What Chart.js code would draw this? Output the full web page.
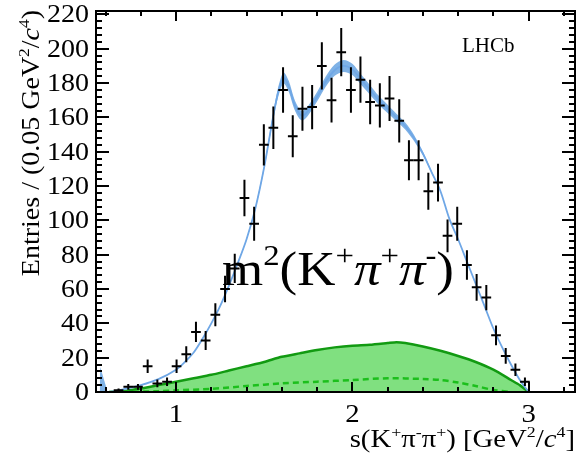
<!DOCTYPE html>
<html>
<head>
<meta charset="utf-8">
<script src="https://cdn.jsdelivr.net/npm/chart.js@4.4.1/dist/chart.umd.min.js"></script>
<style>
  html, body { margin: 0; padding: 0; background: #fff; }
  #wrap { width: 577px; height: 462px; }
</style>
</head>
<body>
<div id="wrap"><canvas id="chart" width="577" height="462"></canvas></div>
<script>
// measured data: bin centres and entries per bin
const binCenters = [0.674, 0.729, 0.784, 0.839, 0.894, 0.949, 1.003, 1.058, 1.113, 1.168,
  1.223, 1.278, 1.333, 1.388, 1.443, 1.498, 1.552, 1.607, 1.662, 1.717,
  1.772, 1.827, 1.882, 1.937, 1.992, 2.046, 2.101, 2.156, 2.211, 2.266,
  2.321, 2.376, 2.431, 2.486, 2.540, 2.595, 2.650, 2.705, 2.760, 2.815,
  2.870, 2.925, 2.979];
const entries = [1, 3, 3, 15, 5, 6, 15, 22, 35, 30,
  45, 60, 72, 113, 98, 144, 154, 176, 149, 165,
  166, 190, 170, 198, 176, 182, 169, 167, 171, 158,
  135, 135, 117, 122, 91, 98, 74, 61, 55, 33,
  21, 13, 6];
const binWidth = 0.055;

// total fit and its uncertainty band (half width)
const fitX = [0.62, 0.65, 0.7, 0.8, 0.9, 1.0, 1.05, 1.1, 1.15, 1.2,
  1.25, 1.3, 1.35, 1.4, 1.45, 1.5, 1.55, 1.58, 1.61, 1.64,
  1.67, 1.7, 1.72, 1.75, 1.8, 1.85, 1.9, 1.95, 2.0, 2.05,
  2.1, 2.15, 2.2, 2.25, 2.3, 2.35, 2.4, 2.45, 2.5, 2.55,
  2.6, 2.65, 2.7, 2.75, 2.8, 2.85, 2.9, 2.95, 3.0];
const fitY = [0, 0.5, 1.5, 4, 7.5, 13, 17.5, 23, 31, 40,
  50, 62, 75, 89, 107, 131, 160, 175, 183, 178,
  168, 162, 161, 164, 172, 181, 187.5, 190, 188, 182,
  176, 170, 165, 160, 155, 148, 139, 128, 117, 101,
  89, 76, 63, 50, 37, 26, 16, 7, 0];
const fitBand = [0, 0, 0, 0, 0, 0, 0, 0, 0, 0,
  0, 0, 0.3, 0.5, 0.8, 1.2, 2, 2.8, 3.2, 3.2,
  3, 2.8, 2.8, 2.8, 2.8, 3, 3.3, 3.5, 3.3, 3,
  2.8, 2.6, 2.4, 2.2, 2, 1.8, 1.2, 0.6, 0.3, 0,
  0, 0, 0, 0, 0, 0, 0, 0, 0];

// spike near threshold
const spikeX = [0.567, 0.57, 0.612];
const spikeY = [0, 14.5, 0];

// filled green component
const bkgX = [0.62, 0.7, 0.8, 0.9, 1.0, 1.1, 1.2, 1.3, 1.4, 1.5, 1.6, 1.7, 1.8, 1.9,
  2.0, 2.1, 2.2, 2.25, 2.3, 2.4, 2.5, 2.6, 2.7, 2.8, 2.9, 2.95, 3.0];
const bkgY = [0, 0.5, 2, 4, 6, 8, 10, 12.5, 15, 17.5, 20.5, 22.5, 24.5, 26,
  27, 27.5, 28.5, 29, 28.5, 26.5, 24, 21, 17.5, 13, 7, 4, 0];

// dashed green component
const dashX = [0.7, 0.9, 1.0, 1.2, 1.4, 1.6, 1.8, 2.0, 2.2, 2.4, 2.5, 2.6, 2.7, 2.8, 2.9];
const dashY = [0, 0.5, 1, 1.8, 3.5, 5, 6, 7, 8, 7.6, 7, 5.5, 3.5, 1.2, 0];

const xTicks = [1, 2, 3];
const xMinorTicks = [0.6, 0.8, 1.2, 1.4, 1.6, 1.8, 2.2, 2.4, 2.6, 2.8, 3.2];
const yTicks = [0, 20, 40, 60, 80, 100, 120, 140, 160, 180, 200, 220];

const SERIF = '"Liberation Serif", "DejaVu Serif", serif';
const pts = (xs, ys) => xs.map((x, i) => ({ x, y: ys[i] }));

// text with superscripts: runs of [text, style] where style has s (sup) / i (italic)
function runsWidth(ctx, runs, size) {
  let w = 0;
  runs.forEach(([t, st = '']) => {
    const sz = st.includes('s') ? size * 0.62 : size;
    ctx.font = (st.includes('i') ? 'italic ' : '') + sz + 'px ' + SERIF;
    w += ctx.measureText(t).width;
  });
  return w;
}
function drawRuns(ctx, runs, x, y, size) {
  runs.forEach(([t, st = '']) => {
    const sup = st.includes('s');
    const sz = sup ? size * 0.62 : size;
    ctx.font = (st.includes('i') ? 'italic ' : '') + sz + 'px ' + SERIF;
    ctx.fillText(t, x, sup ? y - size * 0.4 : y);
    x += ctx.measureText(t).width;
  });
}
// the reference text is a little wider than the font: stretch horizontally
function drawStretched(ctx, runs, x, y, size, sx, align) {
  const w = runsWidth(ctx, runs, size) * sx;
  const x0 = align === 'right' ? x - w : align === 'center' ? x - w / 2 : x;
  ctx.save();
  ctx.translate(x0, y);
  ctx.scale(sx, 1);
  drawRuns(ctx, runs, 0, 0, size);
  ctx.restore();
  return w;
}

const errorBars = {
  id: 'errorBars',
  afterDatasetsDraw(chart) {
    const { ctx, scales: { x, y } } = chart;
    const meta = chart.getDatasetMeta(0);
    ctx.save();
    ctx.strokeStyle = '#000';
    ctx.lineWidth = 2;
    meta.data.forEach((p, i) => {
      const n = entries[i];
      const e = Math.sqrt(n);
      ctx.beginPath();
      ctx.moveTo(x.getPixelForValue(binCenters[i] - binWidth / 2), p.y);
      ctx.lineTo(x.getPixelForValue(binCenters[i] + binWidth / 2), p.y);
      ctx.moveTo(p.x, y.getPixelForValue(n + e));
      ctx.lineTo(p.x, y.getPixelForValue(Math.max(0, n - e)));
      ctx.stroke();
    });
    ctx.restore();
  }
};

const frameTicks = {
  id: 'frameTicks',
  afterDraw(chart) {
    const { ctx, chartArea: a, scales: { x, y } } = chart;
    ctx.save();
    ctx.strokeStyle = '#000';
    ctx.lineWidth = 2;
    ctx.strokeRect(a.left, a.top, a.right - a.left, a.bottom - a.top);
    ctx.beginPath();
    const xt = (v, len) => {
      const px = Math.round(x.getPixelForValue(v));
      ctx.moveTo(px, a.bottom); ctx.lineTo(px, a.bottom - len);
      ctx.moveTo(px, a.top); ctx.lineTo(px, a.top + len);
    };
    const yt = (v, len) => {
      const py = Math.round(y.getPixelForValue(v));
      ctx.moveTo(a.left, py); ctx.lineTo(a.left + len, py);
      ctx.moveTo(a.right, py); ctx.lineTo(a.right - len, py);
    };
    xTicks.forEach(v => xt(v, 10));
    xMinorTicks.forEach(v => xt(v, 5));
    yTicks.forEach(v => yt(v, 13));
    for (let v = 4; v < 222; v += 4) if (v % 20) yt(v, 6);
    ctx.stroke();

    ctx.fillStyle = '#000';
    ctx.textBaseline = 'alphabetic';
    ctx.textAlign = 'left';

    // tick labels
    xTicks.forEach(v => drawStretched(ctx, [[String(v)]], x.getPixelForValue(v), a.bottom + 30, 25, 1.15, 'center'));
    yTicks.forEach(v => drawStretched(ctx, [[String(v)]], a.left - 7, y.getPixelForValue(v) + 8, 25, 1.12, 'right'));

    // axis titles
    const xTitle = [['s(K'], ['+', 's'], ['π'], ['-', 's'], ['π'], ['+', 's'], [') [GeV'], ['2', 's'], ['/'], ['c', 'i'], ['4', 's'], [']']];
    drawStretched(ctx, xTitle, 575, 447, 25, 1.15, 'right');

    const yTitle = [['Entries / (0.05 GeV'], ['2', 's'], ['/'], ['c', 'i'], ['4', 's'], [')']];
    const wy = runsWidth(ctx, yTitle, 25) * 1.12;
    ctx.save();
    ctx.translate(39, 10);
    ctx.rotate(-Math.PI / 2);
    drawStretched(ctx, yTitle, -wy, 0, 25, 1.12, 'left');
    ctx.restore();

    drawRuns(ctx, [['LHCb']], 462, 52, 21);

    const big = [['m'], ['2', 's'], ['(K'], ['+', 's'], ['π', 'i'], ['+', 's'], ['π', 'i'], ['-', 's'], [')']];
    drawStretched(ctx, big, 222, 285, 49, 1.08, 'left');
    ctx.restore();
  }
};

const ctx = document.getElementById('chart').getContext('2d');
new Chart(ctx, {
  type: 'scatter',
  data: {
    datasets: [
      { data: pts(binCenters, entries), pointRadius: 0, order: 0 },
      { data: pts(fitX, fitY), showLine: true, borderColor: '#6fa7e6', borderWidth: 1.8,
        pointRadius: 0, tension: 0.3, order: 1 },
      { data: fitX.map((x, i) => ({ x, y: fitY[i] - fitBand[i] })), showLine: true,
        borderWidth: 0, pointRadius: 0, tension: 0.3, order: 2 },
      { data: fitX.map((x, i) => ({ x, y: fitY[i] + fitBand[i] })), showLine: true,
        borderWidth: 0, pointRadius: 0, tension: 0.3, fill: '-1',
        backgroundColor: '#7fb2e6', order: 2 },
      { data: pts(spikeX, spikeY), showLine: true, borderWidth: 0, pointRadius: 0,
        fill: 'origin', backgroundColor: '#7fb2e6', order: 2 },
      { data: pts(dashX, dashY), showLine: true, borderColor: '#1cbf1c', borderWidth: 2.5,
        borderDash: [6, 4], pointRadius: 0, tension: 0.3, order: 3 },
      { data: pts(bkgX, bkgY), showLine: true, borderColor: '#129a12', borderWidth: 2.5,
        backgroundColor: '#80e080', fill: 'origin', pointRadius: 0, tension: 0.2, order: 4 }
    ]
  },
  options: {
    responsive: false,
    animation: false,
    layout: { padding: { top: 11, right: 2, left: 0, bottom: 0 } },
    plugins: { legend: { display: false }, tooltip: { enabled: false } },
    scales: {
      x: {
        type: 'linear', min: 0.546, max: 3.263,
        grid: { display: false, drawTicks: false }, border: { display: false },
        ticks: { display: false },
        afterBuildTicks: s => { s.ticks = xTicks.map(v => ({ value: v })); },
        afterFit: s => { s.height = 70; }
      },
      y: {
        min: 0, max: 222,
        grid: { display: false, drawTicks: false }, border: { display: false },
        ticks: { display: false },
        afterBuildTicks: s => { s.ticks = yTicks.map(v => ({ value: v })); },
        afterFit: s => { s.width = 96; }
      }
    }
  },
  plugins: [errorBars, frameTicks]
});
</script>
</body>
</html>
